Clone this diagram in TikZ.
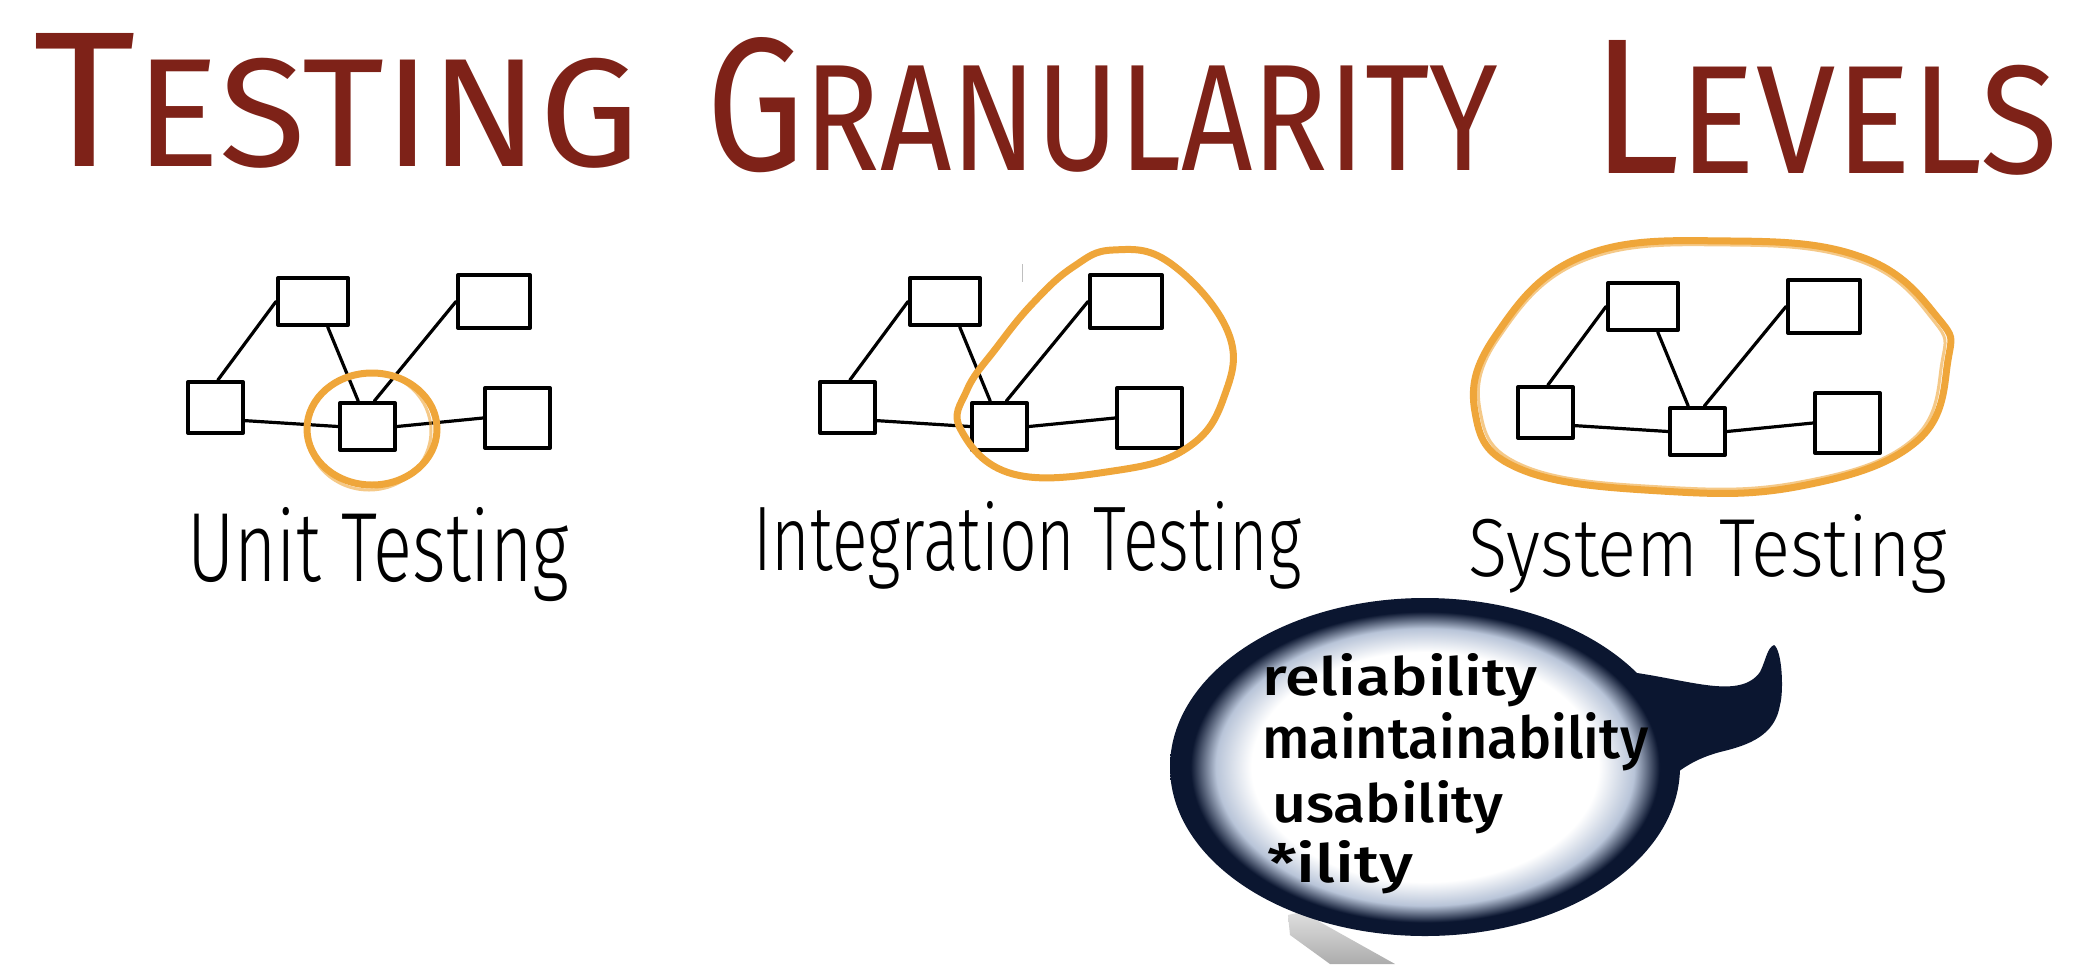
\documentclass[tikz,border=0pt]{standalone}
\usepackage{fontspec}
\setmainfont{Fira Sans}
\newfontfamily\lightfont{Fira Sans Light}
\newfontfamily\medfont{Fira Sans Medium}
\usepackage{graphicx}
\definecolor{titlered}{HTML}{7E2218}
\definecolor{ringorange}{HTML}{EFA63A}
\definecolor{bubblenavy}{HTML}{0B1630}
\definecolor{bubblegray}{HTML}{B8C4D8}
\pgfdeclareradialshading{bubbleglow}{\pgfpoint{0bp}{0bp}}{color(0bp)=(white); color(17bp)=(white); color(20.5bp)=(bubblegray); color(23bp)=(bubblenavy); color(50bp)=(bubblenavy)}
\tikzset{
  gbox/.style={draw=black, line width=4pt, line join=round, fill=white, inner sep=0pt},
  gline/.style={draw=black, line width=3.2pt, line cap=round},
  ring/.style={draw=ringorange, line width=7pt, line cap=round, line join=round},
  ringthin/.style={draw=ringorange, line width=3pt, opacity=0.6},
  titleword/.style={anchor=base west, inner sep=0pt, text=titlered},
  lbl/.style={anchor=base west, inner sep=0pt, text=black},
  btext/.style={anchor=base west, inner sep=0pt, text=black},
}
\newcommand\drawgraph[3]{%
  \begin{scope}[shift={(#2,#3)}]
    \node[gbox, minimum width=70pt, minimum height=47pt] (#1A) at (313,301.5) {};
    \node[gbox, minimum width=72pt, minimum height=53pt] (#1B) at (494,301.5) {};
    \node[gbox, minimum width=55pt, minimum height=51pt] (#1C) at (215.5,407.5) {};
    \node[gbox, minimum width=55pt, minimum height=47pt] (#1D) at (367.5,426.5) {};
    \node[gbox, minimum width=65pt, minimum height=60pt] (#1E) at (517.5,418) {};
    \draw[gline] (#1A.west) -- (#1C.85);
    \draw[gline] (#1A.-60) -- (#1D.110);
    \draw[gline] (#1B.west) -- (#1D.75);
    \draw[gline] (#1C.-24) -- (#1D.west);
    \draw[gline] (#1D.east) -- (#1E.west);
  \end{scope}}
\begin{document}
\begin{tikzpicture}[x=1pt, y=-1pt]
\useasboundingbox[fill=white] (0,0) rectangle (2082,964);

% title
\node[titleword] (t1) at (33,166) {\resizebox{606pt}{133pt}{{\fontsize{40}{40}\selectfont T}{\fontsize{32}{32}\selectfont ESTING}}};
\node[titleword] (t2) at (706,170) {\resizebox{792pt}{133pt}{{\fontsize{40}{40}\selectfont G}{\fontsize{32}{32}\selectfont RANULARITY}}};
\node[titleword] (t3) at (1591,173) {\resizebox{467pt}{133pt}{{\fontsize{40}{40}\selectfont L}{\fontsize{32}{32}\selectfont EVELS}}};

% graphs
\drawgraph{u}{0}{0}
\drawgraph{i}{632}{0}
\drawgraph{s}{1330}{5}

% orange rings
\draw[ring] (372,429) ellipse [x radius=65, y radius=56];
\draw[ringthin] (369,431) ellipse [x radius=62, y radius=59];
\draw[ring] plot[smooth cycle, tension=0.7] coordinates {(1113,250) (1170,263) (1228,332) (1224,397) (1187,448) (1113,471) (1013,474) (961,430) (967,390) (997,347) (1033,303) (1073,267)};
\draw[ring] plot[smooth cycle, tension=0.7] coordinates {(1583,256) (1731,241) (1864,258) (1938,318) (1948,360) (1917,441) (1801,486) (1661,491) (1520,469) (1475,412) (1496,335)};
\draw[ringthin] plot[smooth cycle, tension=0.7] coordinates {(1585,260) (1731,245) (1862,262) (1933,320) (1942,362) (1912,440) (1800,482) (1662,487) (1524,466) (1480,410) (1500,336)};

\draw[gray!50, line width=1pt] (1022,264) -- (1022,282);

% labels
\node[lbl] (l1) at (187,581) {\resizebox{382pt}{74pt}{\lightfont Unit Testing}};
\node[lbl] (l2) at (753,570) {\resizebox{548pt}{69pt}{\lightfont Integration Testing}};
\node[lbl] (l3) at (1468,576) {\resizebox{479pt}{62pt}{\lightfont System Testing}};

% pen
\shade[top color=gray!25, bottom color=gray!65] (1288,915) -- (1302,912) -- (1395,964) -- (1330,964) -- (1290,935) -- cycle;

% speech bubble
\fill[bubblenavy] (1630,672) .. controls (1690,680) and (1740,700) .. (1760,672) .. controls (1766,660) and (1767,648) .. (1774,645) .. controls (1782,650) and (1784,690) .. (1780,705) .. controls (1775,735) and (1750,745) .. (1720,752) .. controls (1690,760) and (1670,775) .. (1650,800) -- cycle;
\path[shading=bubbleglow] (1425,767) ellipse [x radius=255, y radius=169];
\node[btext] (b1) at (1262,695) {\resizebox{275pt}{42pt}{\medfont reliability}};
\node[btext] (b2) at (1262,758) {\resizebox{386pt}{46pt}{\medfont maintainability}};
\node[btext] (b3) at (1272,822) {\resizebox{231pt}{42pt}{\medfont usability}};
\node[btext] (b4) at (1267,882) {\resizebox{146pt}{42pt}{\medfont *ility}};
\end{tikzpicture}
\end{document}
